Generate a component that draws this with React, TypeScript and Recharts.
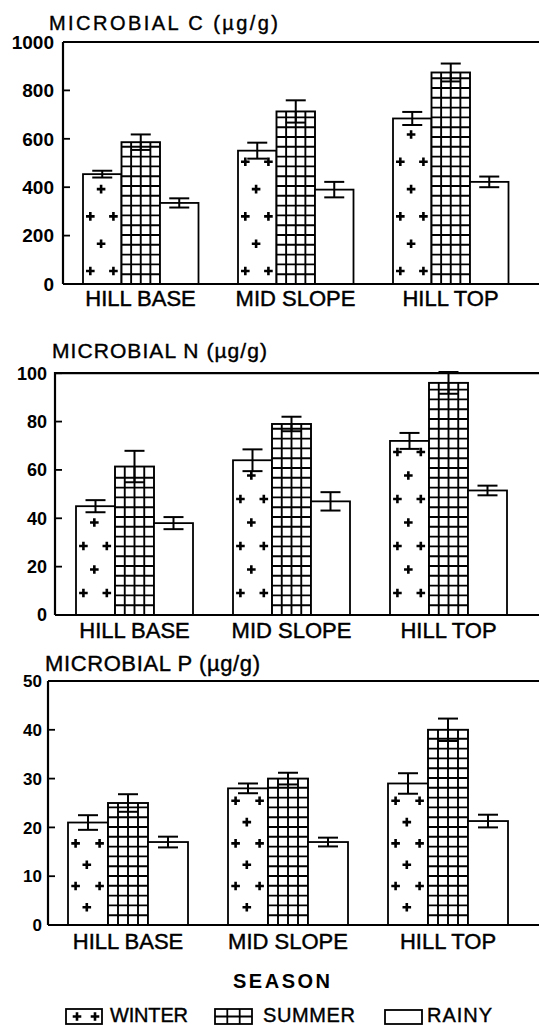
import React from 'react';
import { BarChart, Bar, XAxis, YAxis, ErrorBar, ReferenceLine } from 'recharts';

const FONT = '"Liberation Sans", Arial, sans-serif';

const categories = ['HILL BASE', 'MID SLOPE', 'HILL TOP'];
const seasonNames = ['WINTER', 'SUMMER', 'RAINY'];

// Microbial C
const carbonTicks = [0, 200, 400, 600, 800, 1000];
const carbonWinter = [454, 551, 684];
const carbonWinterErr = [14, 33, 27];
const carbonSummer = [586, 713, 874];
const carbonSummerErr = [32, 46, 37];
const carbonRainy = [335, 390, 422];
const carbonRainyErr = [19, 32, 22];

// Microbial N
const nitrogenTicks = [0, 20, 40, 60, 80, 100];
const nitrogenWinter = [45, 64, 72];
const nitrogenWinterErr = [2.5, 4.5, 3.3];
const nitrogenSummer = [61.4, 79, 96];
const nitrogenSummerErr = [6.5, 3, 4.5];
const nitrogenRainy = [38, 47, 51.5];
const nitrogenRainyErr = [2.5, 3.8, 2];

// Microbial P
const phosphorusTicks = [0, 10, 20, 30, 40, 50];
const phosphorusWinter = [21, 28, 29];
const phosphorusWinterErr = [1.5, 1, 2.1];
const phosphorusSummer = [25, 30, 40];
const phosphorusSummerErr = [1.8, 1.2, 2.3];
const phosphorusRainy = [17, 17, 21.3];
const phosphorusRainyErr = [1.1, 0.9, 1.3];

const buildRows = (w: number[], we: number[], s: number[], se: number[], r: number[], re: number[]) =>
  categories.map((cat, i) => ({ cat, w: w[i], wErr: we[i], s: s[i], sErr: se[i], r: r[i], rErr: re[i] }));

const carbonData = buildRows(carbonWinter, carbonWinterErr, carbonSummer, carbonSummerErr, carbonRainy, carbonRainyErr);
const nitrogenData = buildRows(nitrogenWinter, nitrogenWinterErr, nitrogenSummer, nitrogenSummerErr, nitrogenRainy, nitrogenRainyErr);
const phosphorusData = buildRows(phosphorusWinter, phosphorusWinterErr, phosphorusSummer, phosphorusSummerErr, phosphorusRainy, phosphorusRainyErr);

const Plus = ({ cx, cy }: { cx: number; cy: number }) => (
  <path d={`M${cx - 4.3},${cy}h8.6M${cx},${cy - 4.3}v8.6`} stroke="#000" strokeWidth={2.6} fill="none" />
);

function PlainBar(props: any) {
  const { x, y, width, height } = props;
  return <rect x={x} y={y} width={width} height={height} fill="#fff" stroke="#000" strokeWidth={1.8} />;
}

function GridBar(props: any) {
  const { x, y, width, height } = props;
  const lines: any[] = [];
  for (let k = 1; k < 4; k++) {
    const xx = x + (width * k) / 4;
    lines.push(<line key={'v' + k} x1={xx} x2={xx} y1={y} y2={y + height} />);
  }
  const bottom = y + height;
  let k = 0;
  for (let yy = bottom - 9.8; yy > y + 2; yy -= 9.8) {
    lines.push(<line key={'h' + k++} x1={x} x2={x + width} y1={yy} y2={yy} />);
  }
  return (
    <g stroke="#000" strokeWidth={1.9}>
      <rect x={x} y={y} width={width} height={height} fill="#fff" />
      {lines}
    </g>
  );
}

function makePlusBar(first: number, spacing: number, startPair: boolean) {
  return function PlusBar(props: any) {
    const { x, y, width, height } = props;
    const bottom = y + height;
    const marks: any[] = [];
    let pair = startPair;
    let i = 0;
    for (let yy = bottom - first; yy > y + 9; yy -= spacing) {
      if (pair) {
        marks.push(<Plus key={i++} cx={x + width * 0.19} cy={yy} />);
        marks.push(<Plus key={i++} cx={x + width * 0.79} cy={yy} />);
      } else {
        marks.push(<Plus key={i++} cx={x + width * 0.47} cy={yy} />);
      }
      pair = !pair;
    }
    return (
      <g>
        <rect x={x} y={y} width={width} height={height} fill="#fff" stroke="#000" strokeWidth={1.8} />
        {marks}
      </g>
    );
  };
}

const makeYTick = (fs: number) =>
  function YTick(props: any) {
    const { x, y, payload } = props;
    return (
      <text x={x} y={y} dy="0.36em" textAnchor="end" fontSize={fs} fontWeight="bold" fontFamily={FONT} fill="#000">
        {payload.value}
      </text>
    );
  };

const XTick = (props: any) => {
  const { x, y, payload } = props;
  return (
    <text x={x} y={y} dy="0.72em" textAnchor="middle" fontSize={22} fontFamily={FONT} fill="#000" stroke="#000" strokeWidth={0.45}>
      {payload.value}
    </text>
  );
};

type PanelProps = {
  top: number;
  height: number;
  plotTop: number;
  plotBottom: number;
  left: number;
  padding: { left: number; right: number };
  ticks: number[];
  data: any[];
  tickFont: number;
  tickGap: number;
  catMargin: number;
  barSize: number;
  plusShape: (p: any) => any;
};

function Panel({ top, height, plotTop, plotBottom, left, padding, ticks, data, tickFont, tickGap, catMargin, barSize, plusShape }: PanelProps) {
  const max = ticks[ticks.length - 1];
  return (
    <div style={{ position: 'absolute', left: 0, top }}>
      <BarChart
        width={539}
        height={height}
        data={data}
        margin={{ top: plotTop - top, right: 0, left: 0, bottom: 0 }}
        barGap={0}
        barSize={barSize}
      >
        <XAxis
          dataKey="cat"
          height={top + height - plotBottom}
          interval={0}
          tickLine={false}
          tickSize={0}
          tickMargin={catMargin}
          axisLine={{ stroke: '#000', strokeWidth: 2.2 }}
          tick={XTick}
          padding={padding}
        />
        <YAxis
          width={left}
          domain={[0, max]}
          ticks={ticks}
          interval={0}
          tickSize={-7}
          tickMargin={7 + tickGap}
          axisLine={{ stroke: '#000', strokeWidth: 2.2 }}
          tickLine={{ stroke: '#000', strokeWidth: 1.8 }}
          tick={makeYTick(tickFont)}
        />
        <ReferenceLine y={max} stroke="#000" strokeWidth={2.2} />
        <Bar dataKey="w" shape={plusShape} isAnimationActive={false}>
          <ErrorBar dataKey="wErr" width={10} stroke="#000" strokeWidth={2} />
        </Bar>
        <Bar dataKey="s" shape={GridBar} isAnimationActive={false}>
          <ErrorBar dataKey="sErr" width={10} stroke="#000" strokeWidth={2} />
        </Bar>
        <Bar dataKey="r" shape={PlainBar} isAnimationActive={false}>
          <ErrorBar dataKey="rErr" width={10} stroke="#000" strokeWidth={2} />
        </Bar>
      </BarChart>
    </div>
  );
}

function Overlay() {
  const txt = { fill: '#000', fontFamily: FONT, stroke: '#000', strokeWidth: 0.4 } as const;
  return (
    <svg width={539} height={1027} style={{ position: 'absolute', left: 0, top: 0, pointerEvents: 'none' }}>
      <text x={49} y={30} fontSize={20} textLength={229} lengthAdjust="spacing" {...txt}>MICROBIAL C (µg/g)</text>
      <text x={52} y={358} fontSize={21} textLength={215} lengthAdjust="spacing" {...txt}>MICROBIAL N (µg/g)</text>
      <text x={45} y={671} fontSize={22} textLength={215} lengthAdjust="spacing" {...txt}>MICROBIAL P (µg/g)</text>
      <text x={233} y={988} fontSize={20} fontWeight="bold" textLength={97} lengthAdjust="spacing" fill="#000" fontFamily={FONT}>SEASON</text>
      {/* legend: winter */}
      <rect x={66} y={1009} width={36} height={15} fill="#fff" stroke="#000" strokeWidth={1.8} />
      <Plus cx={77} cy={1016.5} />
      <Plus cx={95} cy={1016.5} />
      <text x={110} y={1022} fontSize={20} textLength={78} lengthAdjust="spacing" {...txt}>{seasonNames[0]}</text>
      {/* legend: summer */}
      <g stroke="#000" strokeWidth={1.8}>
        <rect x={215} y={1009} width={37} height={15} fill="#fff" />
        <line x1={227.3} x2={227.3} y1={1009} y2={1024} />
        <line x1={239.7} x2={239.7} y1={1009} y2={1024} />
        <line x1={215} x2={252} y1={1016.5} y2={1016.5} />
      </g>
      <text x={263} y={1022} fontSize={20} textLength={92} lengthAdjust="spacing" {...txt}>{seasonNames[1]}</text>
      {/* legend: rainy */}
      <rect x={385} y={1010} width={37} height={14} fill="#fff" stroke="#000" strokeWidth={1.8} />
      <text x={427} y={1022} fontSize={20} textLength={65} lengthAdjust="spacing" {...txt}>{seasonNames[2]}</text>
    </svg>
  );
}

export default function App() {
  return (
    <div style={{ position: 'absolute', left: 0, top: 0, width: 539, height: 1027, background: '#fff' }}>
      <Panel
        top={0}
        height={312}
        plotTop={42}
        plotBottom={284}
        left={63}
        padding={{ left: 0, right: 11 }}
        ticks={carbonTicks}
        data={carbonData}
        tickFont={19}
        tickGap={9}
        catMargin={6}
        barSize={38.5}
        plusShape={makePlusBar(13, 27.3, true)}
      />
      <Panel
        top={320}
        height={330}
        plotTop={372}
        plotBottom={615}
        left={55}
        padding={{ left: 1, right: 12 }}
        ticks={nitrogenTicks}
        data={nitrogenData}
        tickFont={18}
        tickGap={8}
        catMargin={7}
        barSize={39}
        plusShape={makePlusBar(22, 23.5, true)}
      />
      <Panel
        top={660}
        height={300}
        plotTop={681}
        plotBottom={925}
        left={48}
        padding={{ left: 0, right: 11 }}
        ticks={phosphorusTicks}
        data={phosphorusData}
        tickFont={17}
        tickGap={6}
        catMargin={8}
        barSize={40}
        plusShape={makePlusBar(17.7, 21.3, false)}
      />
      <Overlay />
    </div>
  );
}
